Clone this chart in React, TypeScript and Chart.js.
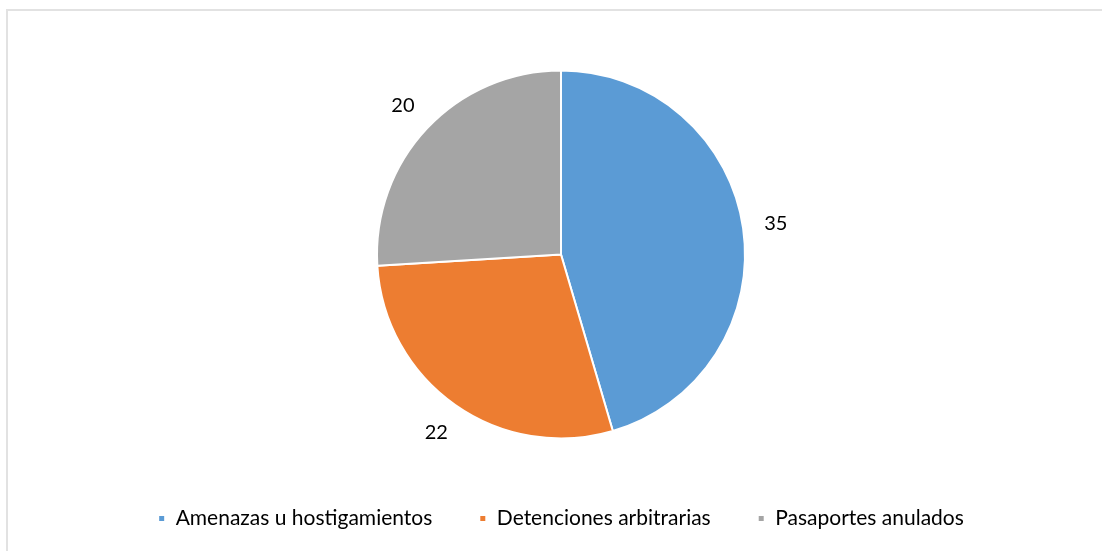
import React, { useEffect, useRef } from "react";
import { Chart, registerables } from "chart.js";

Chart.register(...registerables);

const categories = ["Amenazas u hostigamientos", "Detenciones arbitrarias", "Pasaportes anulados"];
const values = [35, 22, 20];
const colors = ["#5B9BD5", "#ED7D31", "#A5A5A5"];

const FONT = "Lato, 'Open Sans', sans-serif";

const outsideLabels = {
  id: "outsideLabels",
  afterDatasetsDraw(chart: any) {
    const ctx = chart.ctx;
    const meta = chart.getDatasetMeta(0);
    const data = chart.data.datasets[0].data as number[];
    ctx.save();
    ctx.font = `20px ${FONT}`;
    ctx.fillStyle = "#000000";
    ctx.textAlign = "center";
    ctx.textBaseline = "middle";
    meta.data.forEach((arc: any, i: number) => {
      const p = arc.getProps(["x", "y", "startAngle", "endAngle", "outerRadius"], true);
      const mid = (p.startAngle + p.endAngle) / 2;
      const r = p.outerRadius + 33;
      ctx.fillText(String(data[i]), p.x + Math.cos(mid) * r, p.y + Math.sin(mid) * r);
    });
    ctx.restore();
  },
};

export default function App() {
  const ref = useRef<HTMLCanvasElement | null>(null);
  useEffect(() => {
    if (!ref.current) return;
    const chart = new Chart(ref.current, {
      type: "pie",
      data: {
        labels: categories,
        datasets: [
          {
            data: values,
            backgroundColor: colors,
            borderColor: "#ffffff",
            borderWidth: 2,
          },
        ],
      },
      options: {
        responsive: false,
        animation: false,
        radius: 184,
        layout: { padding: { left: 20, top: 48, right: 0, bottom: 0 } },
        plugins: {
          tooltip: { enabled: false },
          legend: {
            position: "bottom",
            labels: {
              font: { family: FONT, size: 21 },
              color: "#000000",
              boxWidth: 7,
              boxHeight: 7,
              padding: 47,
            },
          },
        },
      } as any,
      plugins: [outsideLabels],
    });
    return () => chart.destroy();
  }, []);
  return (
    <div style={{ position: "fixed", left: 0, top: 0, width: 1102, height: 551, overflow: "hidden", background: "#fff" }}>
      <div
        style={{
          position: "absolute",
          left: 6,
          top: 9,
          width: 2000,
          height: 2000,
          borderLeft: "2px solid #e2e2e2",
          borderTop: "2px solid #e2e2e2",
        }}
      />
      <canvas ref={ref} width={1102} height={539} style={{ position: "absolute", left: 0, top: 0, display: "block" }} />
    </div>
  );
}
